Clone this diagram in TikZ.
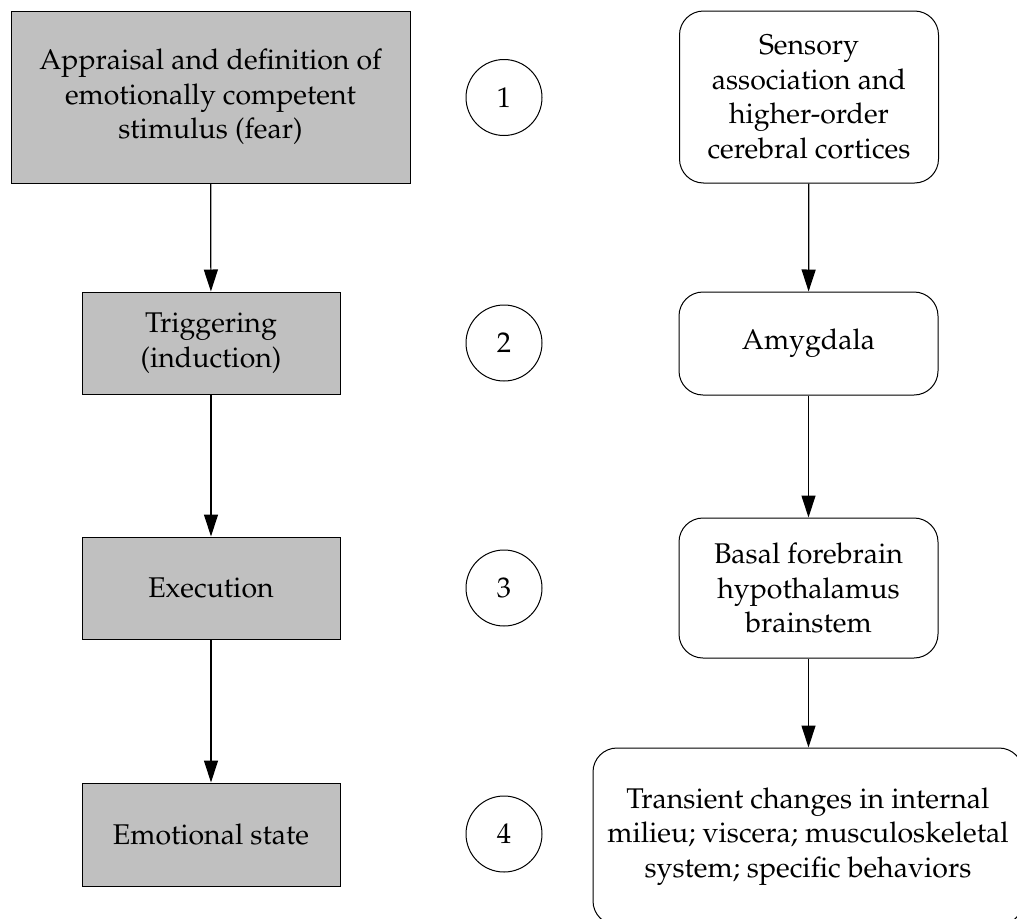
\documentclass[tikz,border=0pt]{standalone}
\usepackage[T1]{fontenc}
\usepackage{mathpazo}
\usetikzlibrary{arrows.meta}
\definecolor{boxgray}{RGB}{192,192,192}
\tikzset{
  stage/.style={draw=black, line width=1pt, fill=boxgray, rectangle, inner sep=0pt, align=center},
  region/.style={draw=black, line width=1pt, fill=white, rectangle, rounded corners=24pt, inner sep=0pt, align=center},
  stepnum/.style={draw=black, line width=1pt, circle, minimum size=76pt, inner sep=0pt},
  flow/.style={line width=1.2pt, -{Triangle[length=22pt,width=14pt]}},
  every node/.style={font=\fontsize{28.5}{34.5}\selectfont}
}
\begin{document}
\begin{tikzpicture}[x=1pt,y=-1pt]
\useasboundingbox (0,0) rectangle (1017,918);
\clip (0,0) rectangle (1017,918);
% process stages
\node[stage, minimum width=399pt, minimum height=172pt] (L1) at (210.5,97) {Appraisal and definition of\\emotionally competent\\stimulus (fear)};
\node[stage, minimum width=258pt, minimum height=102pt] (L2) at (211,343) {Triggering\\(induction)};
\node[stage, minimum width=258pt, minimum height=102pt] (L3) at (211,588) {Execution};
\node[stage, minimum width=258pt, minimum height=103pt] (L4) at (211,834.5) {Emotional state};
% step numbers
\node[stepnum] (C1) at (504,97.5) {1};
\node[stepnum] (C2) at (504,343) {2};
\node[stepnum] (C3) at (504,588) {3};
\node[stepnum] (C4) at (504,834) {4};
% brain regions
\node[region, minimum width=259pt, minimum height=172pt] (R1) at (809,97) {Sensory\\association and\\higher-order\\cerebral cortices};
\node[region, minimum width=259pt, minimum height=103pt] (R2) at (808.5,343.5) {Amygdala};
\node[region, minimum width=259pt, minimum height=140pt] (R3) at (808.5,588) {Basal forebrain\\hypothalamus\\brainstem};
\node[region, minimum width=430pt, minimum height=177pt] (R4) at (808,836.5) {Transient changes in internal\\milieu; viscera; musculoskeletal\\system; specific behaviors};
% connectors
\draw[flow] (L1) -- (L2);
\draw[flow] (L2) -- (L3);
\draw[flow] (L3) -- (L4);
\draw[flow] (R1) -- (R2);
\draw[flow] (R2) -- (R3);
\draw[flow] (R3.south) -- (R3.south |- R4.north);
\end{tikzpicture}
\end{document}
